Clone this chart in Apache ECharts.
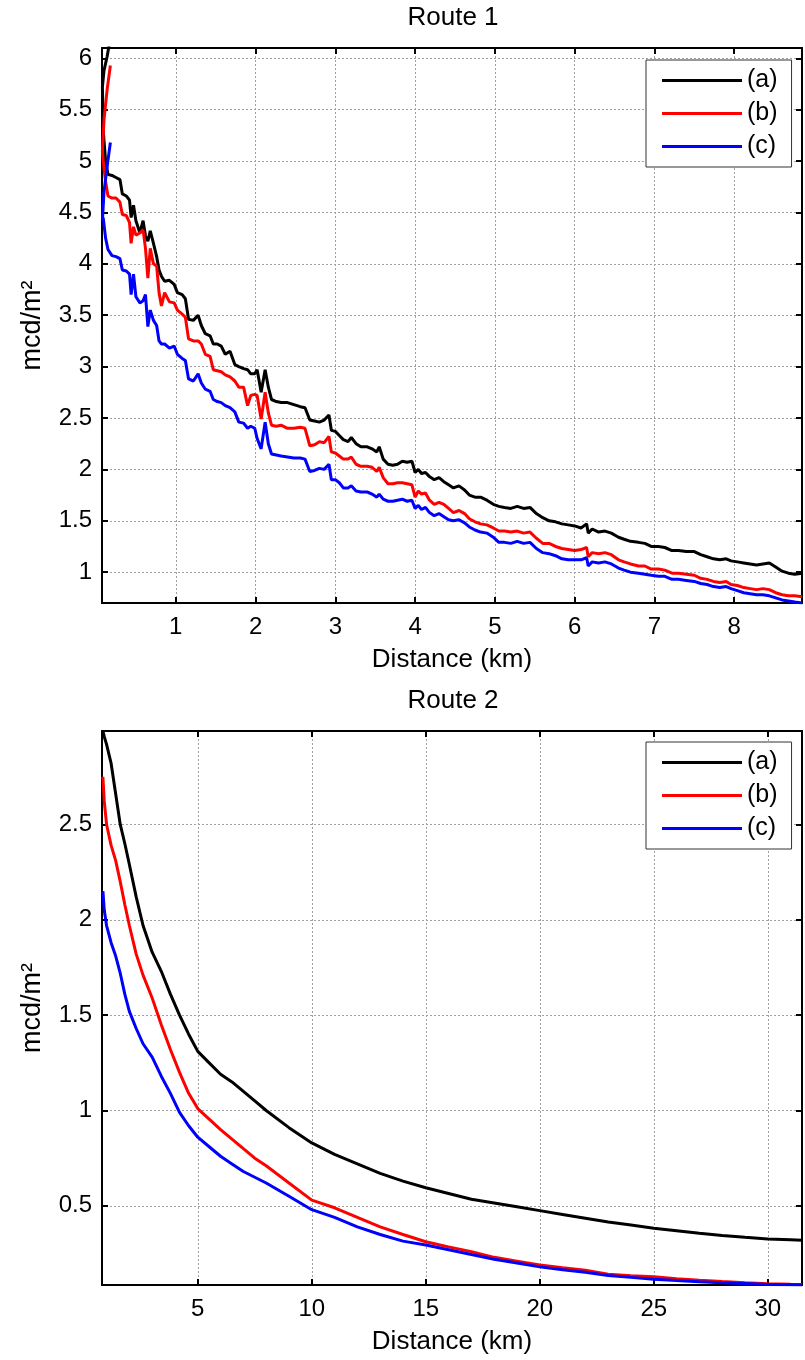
<!DOCTYPE html>
<html>
<head>
<meta charset="utf-8">
<script src="https://cdn.jsdelivr.net/npm/echarts@6/dist/echarts.min.js"></script>
<style>
html,body{margin:0;padding:0;background:#fff;}
#chart{width:805px;height:1360px;}
</style>
</head>
<body>
<div id="chart"></div>
<script>
// ---------- Route 1 data (distance km, three series) ----------
var route1Km = [0.18,0.14,0.10,0.08,0.09,0.12,0.15,0.20,0.25,0.30,
  0.33,0.38,0.42,0.44,0.47,0.50,0.55,0.59,0.62,0.65,
  0.68,0.72,0.76,0.79,0.82,0.86,0.92,0.98,1.02,1.08,
  1.12,1.16,1.22,1.28,1.32,1.37,1.43,1.47,1.52,1.57,
  1.62,1.68,1.74,1.79,1.85,1.90,1.94,1.99,2.02,2.07,
  2.12,2.16,2.20,2.26,2.32,2.40,2.48,2.56,2.62,2.68,
  2.74,2.80,2.86,2.92,2.95,3.00,3.05,3.10,3.16,3.20,
  3.26,3.32,3.40,3.46,3.52,3.55,3.60,3.66,3.72,3.78,
  3.84,3.90,3.96,4.00,4.04,4.08,4.13,4.18,4.24,4.30,
  4.36,4.42,4.48,4.55,4.62,4.68,4.75,4.82,4.90,4.98,
  5.05,5.12,5.20,5.28,5.36,5.44,5.52,5.60,5.68,5.76,
  5.84,5.92,6.00,6.08,6.15,6.17,6.22,6.30,6.38,6.46,
  6.55,6.62,6.70,6.80,6.88,6.96,7.05,7.13,7.22,7.30,
  7.40,7.50,7.58,7.66,7.74,7.82,7.90,7.96,8.04,8.12,
  8.20,8.28,8.36,8.44,8.52,8.60,8.68,8.76,8.85];
var route1A = [6.20,6.02,5.88,5.72,5.30,5.00,4.87,4.86,4.84,4.82,
  4.68,4.66,4.62,4.45,4.57,4.42,4.30,4.42,4.27,4.22,
  4.32,4.20,4.07,3.94,3.88,3.83,3.84,3.80,3.72,3.70,
  3.66,3.46,3.45,3.50,3.40,3.32,3.30,3.22,3.22,3.20,
  3.12,3.15,3.02,3.00,2.98,2.97,2.93,2.93,2.97,2.75,
  2.97,2.80,2.68,2.66,2.65,2.65,2.63,2.61,2.60,2.48,
  2.47,2.46,2.48,2.53,2.38,2.37,2.33,2.29,2.27,2.31,
  2.25,2.22,2.22,2.20,2.17,2.22,2.10,2.05,2.04,2.05,
  2.08,2.07,2.08,1.97,2.00,1.96,1.97,1.93,1.90,1.92,
  1.88,1.85,1.82,1.84,1.80,1.75,1.73,1.73,1.70,1.66,
  1.64,1.63,1.62,1.64,1.62,1.63,1.57,1.53,1.50,1.49,
  1.47,1.46,1.45,1.43,1.47,1.38,1.42,1.39,1.40,1.38,
  1.34,1.32,1.30,1.29,1.28,1.25,1.25,1.24,1.21,1.21,
  1.20,1.20,1.17,1.15,1.13,1.12,1.13,1.11,1.10,1.09,
  1.08,1.07,1.08,1.09,1.05,1.01,0.99,0.98,0.99];
var route1B = [5.93,5.70,5.40,5.10,5.00,4.80,4.66,4.64,4.64,4.60,
  4.48,4.47,4.40,4.20,4.36,4.28,4.30,4.33,4.15,3.86,
  4.15,4.00,3.98,3.72,3.59,3.72,3.63,3.62,3.55,3.51,
  3.48,3.27,3.25,3.25,3.22,3.12,3.10,2.97,2.96,2.95,
  2.92,2.90,2.86,2.80,2.80,2.62,2.72,2.73,2.72,2.49,
  2.75,2.55,2.43,2.42,2.43,2.40,2.40,2.41,2.40,2.23,
  2.24,2.27,2.26,2.32,2.17,2.16,2.13,2.10,2.10,2.12,
  2.05,2.03,2.03,2.02,1.98,2.02,1.92,1.86,1.86,1.87,
  1.87,1.86,1.85,1.73,1.79,1.76,1.77,1.70,1.66,1.68,
  1.66,1.62,1.58,1.60,1.57,1.52,1.49,1.47,1.46,1.43,
  1.40,1.40,1.39,1.40,1.38,1.39,1.33,1.28,1.28,1.25,
  1.23,1.22,1.21,1.22,1.24,1.15,1.19,1.18,1.19,1.17,
  1.12,1.10,1.08,1.06,1.06,1.03,1.03,1.02,0.99,0.99,
  0.98,0.97,0.94,0.93,0.91,0.90,0.91,0.88,0.87,0.85,
  0.84,0.83,0.84,0.83,0.80,0.78,0.77,0.77,0.76];
var route1C = [5.18,4.95,4.70,4.42,4.45,4.25,4.14,4.08,4.07,4.05,
  3.94,3.93,3.90,3.70,3.90,3.68,3.62,3.64,3.70,3.39,
  3.55,3.45,3.40,3.25,3.22,3.22,3.18,3.20,3.12,3.08,
  3.06,2.88,2.86,2.93,2.84,2.78,2.76,2.68,2.66,2.65,
  2.62,2.60,2.56,2.46,2.45,2.40,2.42,2.40,2.30,2.20,
  2.46,2.25,2.15,2.14,2.13,2.12,2.11,2.11,2.10,1.98,
  1.99,2.01,2.00,2.05,1.90,1.90,1.87,1.82,1.82,1.84,
  1.79,1.78,1.78,1.76,1.73,1.76,1.71,1.69,1.69,1.70,
  1.71,1.69,1.70,1.62,1.65,1.61,1.63,1.58,1.55,1.57,
  1.54,1.51,1.50,1.51,1.48,1.44,1.41,1.39,1.38,1.34,
  1.29,1.29,1.28,1.30,1.28,1.29,1.23,1.19,1.18,1.16,
  1.13,1.12,1.12,1.12,1.14,1.06,1.10,1.09,1.10,1.08,
  1.04,1.02,1.00,0.99,0.98,0.97,0.96,0.96,0.93,0.93,
  0.92,0.91,0.89,0.88,0.86,0.85,0.86,0.84,0.82,0.80,
  0.79,0.78,0.78,0.77,0.75,0.73,0.72,0.71,0.70];

// ---------- Route 2 data ----------
var route2Km = [0.84,0.9,1.0,1.2,1.4,1.6,1.8,2.0,2.3,2.6,
  3.0,3.4,3.8,4.2,4.6,5.0,5.5,6.0,6.5,7.0,
  7.5,8.0,9,10,11,12,13,14,15,16,
  17,18,19,20,21,22,23,24,25,26,
  27,28,29,30,31,31.5];
var route2A = [2.99,2.96,2.92,2.82,2.66,2.50,2.40,2.29,2.12,1.97,
  1.83,1.73,1.61,1.50,1.40,1.31,1.25,1.19,1.15,1.10,
  1.05,1.00,0.91,0.83,0.77,0.72,0.67,0.63,0.595,0.565,
  0.535,0.515,0.495,0.475,0.455,0.435,0.415,0.40,0.383,0.37,
  0.356,0.345,0.335,0.326,0.322,0.32];
var route2B = [2.75,2.62,2.50,2.39,2.31,2.20,2.08,1.97,1.82,1.71,
  1.59,1.45,1.32,1.20,1.09,1.01,0.955,0.90,0.85,0.80,
  0.75,0.71,0.62,0.53,0.49,0.44,0.39,0.35,0.312,0.285,
  0.26,0.23,0.21,0.19,0.175,0.162,0.142,0.133,0.128,0.118,
  0.11,0.103,0.097,0.092,0.089,0.088];
var route2C = [2.15,2.05,1.97,1.88,1.81,1.72,1.61,1.52,1.43,1.35,
  1.28,1.18,1.09,0.99,0.92,0.86,0.81,0.76,0.72,0.68,
  0.65,0.62,0.55,0.48,0.44,0.39,0.35,0.315,0.295,0.27,
  0.245,0.22,0.20,0.18,0.165,0.152,0.135,0.125,0.115,0.108,
  0.102,0.097,0.093,0.088,0.086,0.085];

var seriesNames = ['(a)','(b)','(c)'];
var seriesColors = ['#000000','#ff0000','#0000ff'];
var FONT = 'Liberation Sans, Arial, sans-serif';

function zip(xs, ys){ var out=[]; for(var i=0;i<xs.length;i++){ out.push([xs[i], ys[i]]); } return out; }
function stepFormatter(step){
  return function(v){
    var r = v/step;
    if (Math.abs(r - Math.round(r)) > 1e-6) return '';
    return String(Math.round(v*1000)/1000);
  };
}
function mainX(grid, min, max, step){
  return {
    gridIndex: grid, type:'value', position:'bottom', min:min, max:max,
    minInterval: step, maxInterval: step,
    axisLine:{show:true, onZero:false, lineStyle:{color:'#000', width:2}},
    axisTick:{show:true, inside:true, length:6, lineStyle:{color:'#000', width:2}},
    axisLabel:{show:true, margin:12, fontSize:24, color:'#000', fontFamily:FONT, formatter: stepFormatter(step)},
    splitLine:{show:true, lineStyle:{color:'#a0a0a0', width:1, type:[2,2]}},
    name:'Distance (km)', nameLocation:'middle', nameGap:44,
    nameTextStyle:{fontSize:26, color:'#000', fontFamily:FONT}
  };
}
function boxX(grid, min, max, step){
  return {
    gridIndex: grid, type:'value', position:'top', min:min, max:max,
    minInterval: step, maxInterval: step,
    axisLine:{show:true, onZero:false, lineStyle:{color:'#000', width:2}},
    axisTick:{show:true, inside:true, length:6, lineStyle:{color:'#000', width:2}},
    axisLabel:{show:false}, splitLine:{show:false}
  };
}
function mainY(grid, min, max, step){
  return {
    gridIndex: grid, type:'value', position:'left', min:min, max:max,
    minInterval: step, maxInterval: step,
    axisLine:{show:true, onZero:false, lineStyle:{color:'#000', width:2}},
    axisTick:{show:true, inside:true, length:6, lineStyle:{color:'#000', width:2}},
    axisLabel:{show:true, margin:10, fontSize:24, color:'#000', fontFamily:FONT, formatter: stepFormatter(step)},
    splitLine:{show:true, lineStyle:{color:'#a0a0a0', width:1, type:[2,2]}},
    name:'mcd/m\u00b2', nameLocation:'middle', nameGap:56,
    nameTextStyle:{fontSize:27, color:'#000', fontFamily:FONT}
  };
}
function boxY(grid, min, max, step){
  return {
    gridIndex: grid, type:'value', position:'right', min:min, max:max,
    minInterval: step, maxInterval: step,
    axisLine:{show:true, onZero:false, lineStyle:{color:'#000', width:2}},
    axisTick:{show:true, inside:true, length:6, lineStyle:{color:'#000', width:2}},
    axisLabel:{show:false}, splitLine:{show:false}
  };
}
function legendAt(top){
  return {
    orient:'vertical', left:646, top:top, padding:[8,14,8,16],
    itemWidth:80, itemHeight:3, itemGap:8, icon:'rect',
    borderColor:'#333', borderWidth:1, backgroundColor:'#fff',
    textStyle:{fontSize:25, lineHeight:24, color:'#000', fontFamily:FONT},
    data: seriesNames
  };
}
function lineSeries(name, color, xi, yi, data){
  return {
    type:'line', name:name, xAxisIndex:xi, yAxisIndex:yi, data:data,
    showSymbol:false, symbol:'none', clip:true,
    lineStyle:{color:color, width:3}, itemStyle:{color:color},
    emphasis:{disabled:true}
  };
}

var r1 = [route1A, route1B, route1C];
var r2 = [route2A, route2B, route2C];
var series = [];
for (var i=0;i<3;i++){ series.push(lineSeries(seriesNames[i], seriesColors[i], 0, 0, zip(route1Km, r1[i]))); }
for (var j=0;j<3;j++){ series.push(lineSeries(seriesNames[j], seriesColors[j], 2, 2, zip(route2Km, r2[j]))); }

var option = {
  animation:false,
  backgroundColor:'#fff',
  textStyle:{fontFamily:FONT},
  title:[
    {text:'Route 1', left:453, top:5, padding:0, textAlign:'center', textStyle:{fontSize:26, fontWeight:'normal', color:'#000', fontFamily:FONT}},
    {text:'Route 2', left:453, top:688, padding:0, textAlign:'center', textStyle:{fontSize:26, fontWeight:'normal', color:'#000', fontFamily:FONT}}
  ],
  legend:[legendAt(60), legendAt(742)],
  grid:[
    {left:102, right:1, top:48, height:555, containLabel:false},
    {left:102, right:1, top:731, height:554, containLabel:false}
  ],
  xAxis:[mainX(0,0.075,8.85,1), boxX(0,0.075,8.85,1), mainX(1,0.8,31.5,5), boxX(1,0.8,31.5,5)],
  yAxis:[mainY(0,0.7,6.1,0.5), boxY(0,0.7,6.1,0.5), mainY(1,0.085,2.99,0.5), boxY(1,0.085,2.99,0.5)],
  series:series
};
var chart = echarts.init(document.getElementById('chart'), null, {renderer:'canvas'});
chart.setOption(option);
</script>
</body>
</html>
